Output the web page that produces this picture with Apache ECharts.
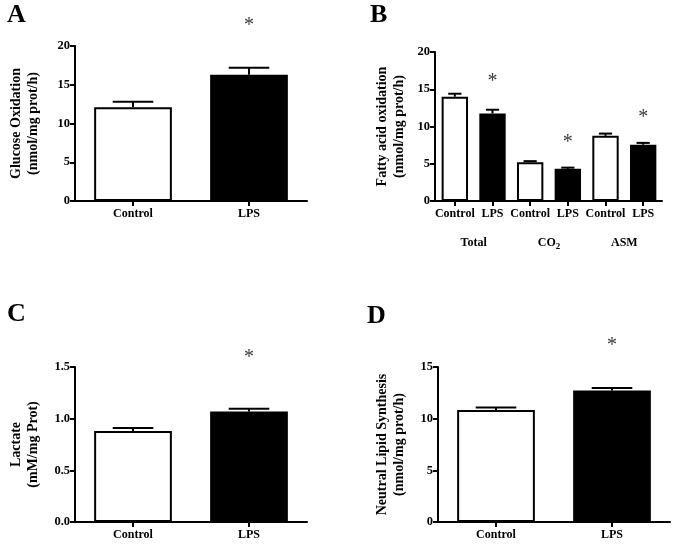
<!DOCTYPE html>
<html>
<head>
<meta charset="utf-8">
<script src="https://cdn.jsdelivr.net/npm/echarts@6/dist/echarts.min.js"></script>
<style>
html,body{margin:0;padding:0;background:#fff;}
#chart{width:676px;height:545px;}
</style>
</head>
<body>
<div id="chart"></div>
<script>
// ---- Data ----
const catsAC = ['Control', 'LPS'];
const glucoseMean = [12.1, 16.3];
const glucoseErr = [0.7, 0.9];
const glucoseStarAt = [null, 23.1];

const catsB = ['Control', 'LPS', 'Control', 'LPS', 'Control', 'LPS'];
const groupsB = ['Total', 'CO2', 'ASM'];
const faoMean = [14.0, 11.75, 5.2, 4.33, 8.75, 7.55];
const faoErr = [0.4, 0.5, 0.15, 0.15, 0.3, 0.25];
const faoStarAt = [null, 16.6, null, 8.3, null, 11.65];

const lactateMean = [0.88, 1.07];
const lactateErr = [0.03, 0.025];
const lactateStarAt = [null, 1.63];

const nlsMean = [10.85, 12.73];
const nlsErr = [0.23, 0.23];
const nlsStarAt = [null, 17.4];

const yTicksA = [0, 5, 10, 15, 20];
const yTicksC = [0.0, 0.5, 1.0, 1.5];
const yTicksD = [0, 5, 10, 15];

// ---- Styling helpers ----
const SERIF = '"Liberation Serif", "Times New Roman", serif';
const chart = echarts.init(document.getElementById('chart'), null, {renderer: 'canvas'});

function fillFor(cat) { return cat === 'LPS' ? '#000' : '#fff'; }

function barData(cats, vals) {
  return vals.map((v, i) => ({
    value: v,
    itemStyle: {color: fillFor(cats[i]), borderColor: '#000', borderWidth: 2}
  }));
}

function errRender(params, api) {
  const x = api.value(0), m = api.value(1), e = api.value(2);
  const base = api.coord([x, m]);
  const top = api.coord([x, m + e]);
  const band = api.size([1, 0])[0];
  const hw = band * 0.175;
  const st = {stroke: '#000', lineWidth: 2};
  return {
    type: 'group',
    children: [
      {type: 'line', shape: {x1: base[0], y1: base[1], x2: top[0], y2: top[1]}, style: st},
      {type: 'line', shape: {x1: top[0] - hw, y1: top[1], x2: top[0] + hw, y2: top[1]}, style: st}
    ]
  };
}

function starRender(params, api) {
  const p = api.coord([api.value(0), api.value(1)]);
  return {
    type: 'text',
    x: p[0], y: p[1] + 4,
    style: {text: '*', fill: '#3a3a3a', font: '20px ' + SERIF, align: 'center', verticalAlign: 'middle'}
  };
}

function errData(mean, err) { return mean.map((m, i) => [i, m, err[i]]); }
function starData(at) {
  const out = [];
  at.forEach((s, i) => { if (s !== null) out.push([i, s]); });
  return out;
}

const axisLineStyle = {show: true, lineStyle: {color: '#000', width: 2}};
const tickStyle = {show: true, length: 5, lineStyle: {color: '#000', width: 2}};
const labelStyle = {color: '#000', fontFamily: SERIF, fontWeight: 'bold', fontSize: 12};

function xCat(grid, cats, extra) {
  return Object.assign({
    type: 'category', gridIndex: grid, data: cats,
    axisLine: axisLineStyle,
    axisTick: Object.assign({alignWithLabel: true}, tickStyle),
    axisLabel: Object.assign({margin: 7, interval: 0}, labelStyle),
    splitLine: {show: false}
  }, extra || {});
}

function yVal(grid, ticks, name, nameGap, fmt, extra) {
  const iv = ticks[1] - ticks[0];
  return Object.assign({
    type: 'value', gridIndex: grid,
    min: ticks[0], max: ticks[ticks.length - 1], interval: iv,
    name: name, nameLocation: 'middle', nameRotate: 90, nameGap: nameGap,
    nameTextStyle: {color: '#000', fontFamily: SERIF, fontWeight: 'bold', fontSize: 14, lineHeight: 17},
    axisLine: axisLineStyle,
    axisTick: tickStyle,
    axisLabel: Object.assign({margin: 5, formatter: fmt}, labelStyle, {fontSize: 12.5}),
    splitLine: {show: false}
  }, extra || {});
}

const letterFont = 'bold 26px ' + SERIF;
const option = {
  animation: false,
  backgroundColor: '#fff',
  graphic: [
    {type: 'text', left: 7, top: 2, style: {text: 'A', font: letterFont, fill: '#000'}},
    {type: 'text', left: 370, top: 2, style: {text: 'B', font: letterFont, fill: '#000'}},
    {type: 'text', left: 7, top: 301, style: {text: 'C', font: letterFont, fill: '#000'}},
    {type: 'text', left: 367, top: 303, style: {text: 'D', font: letterFont, fill: '#000'}}
  ],
  grid: [
    {left: 75, top: 46, width: 232, height: 155},
    {left: 436, top: 52, width: 226, height: 149},
    {left: 75, top: 367, width: 232, height: 155},
    {left: 438, top: 367, width: 232, height: 155}
  ],
  xAxis: [
    xCat(0, catsAC),
    xCat(1, catsB),
    xCat(2, catsAC),
    xCat(3, catsAC),
    {
      type: 'category', gridIndex: 1, data: groupsB, position: 'bottom', offset: 27,
      axisLine: {show: false}, axisTick: {show: false}, splitLine: {show: false},
      axisLabel: Object.assign({
        interval: 0, margin: 7,
        formatter: v => v === 'CO2' ? '{n|CO}{sub|2}' : '{n|' + v + '}',
        rich: {
          n: {fontFamily: SERIF, fontWeight: 'bold', fontSize: 12, color: '#000', lineHeight: 16, verticalAlign: 'middle'},
          sub: {fontFamily: SERIF, fontWeight: 'bold', fontSize: 9, color: '#000', lineHeight: 10, verticalAlign: 'bottom'}
        }
      }, labelStyle)
    }
  ],
  yAxis: [
    yVal(0, yTicksA, 'Glucose Oxidation\n(nmol/mg prot/h)', 33, v => String(v)),
    yVal(1, yTicksA, 'Fatty acid oxidation\n(nmol/mg prot/h)', 27, v => String(v), {offset: 1}),
    yVal(2, yTicksC, 'Lactate\n(mM/mg Prot)', 33, v => v.toFixed(1)),
    yVal(3, yTicksD, 'Neutral Lipid Synthesis\n(nmol/mg prot/h)', 30, v => String(v))
  ],
  series: [
    {type: 'bar', xAxisIndex: 0, yAxisIndex: 0, barWidth: '67%', data: barData(catsAC, glucoseMean)},
    {type: 'bar', xAxisIndex: 1, yAxisIndex: 1, barWidth: '70%', data: barData(catsB, faoMean)},
    {type: 'bar', xAxisIndex: 2, yAxisIndex: 2, barWidth: '67%', data: barData(catsAC, lactateMean)},
    {type: 'bar', xAxisIndex: 3, yAxisIndex: 3, barWidth: '67%', data: barData(catsAC, nlsMean)},

    {type: 'custom', xAxisIndex: 0, yAxisIndex: 0, z: 5, renderItem: errRender, data: errData(glucoseMean, glucoseErr)},
    {type: 'custom', xAxisIndex: 1, yAxisIndex: 1, z: 5, renderItem: errRender, data: errData(faoMean, faoErr)},
    {type: 'custom', xAxisIndex: 2, yAxisIndex: 2, z: 5, renderItem: errRender, data: errData(lactateMean, lactateErr)},
    {type: 'custom', xAxisIndex: 3, yAxisIndex: 3, z: 5, renderItem: errRender, data: errData(nlsMean, nlsErr)},

    {type: 'custom', xAxisIndex: 0, yAxisIndex: 0, z: 6, clip: false, renderItem: starRender, data: starData(glucoseStarAt)},
    {type: 'custom', xAxisIndex: 1, yAxisIndex: 1, z: 6, clip: false, renderItem: starRender, data: starData(faoStarAt)},
    {type: 'custom', xAxisIndex: 2, yAxisIndex: 2, z: 6, clip: false, renderItem: starRender, data: starData(lactateStarAt)},
    {type: 'custom', xAxisIndex: 3, yAxisIndex: 3, z: 6, clip: false, renderItem: starRender, data: starData(nlsStarAt)}
  ]
};
chart.setOption(option);
</script>
</body>
</html>
